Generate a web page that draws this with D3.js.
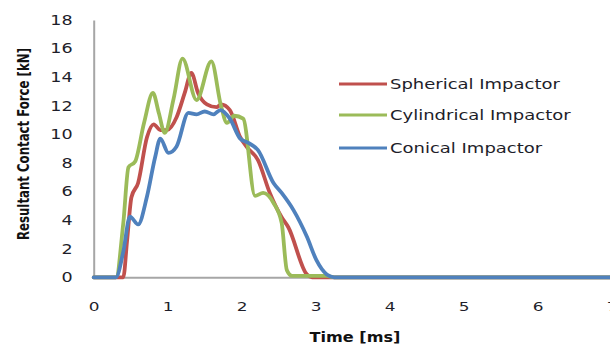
<!DOCTYPE html>
<html>
<head>
<meta charset="utf-8">
<script src="https://cdn.jsdelivr.net/npm/d3@7"></script>
<style>
  html, body { margin: 0; padding: 0; background: #fff; }
  svg { display: block; }
</style>
</head>
<body>
<svg id="chart" width="610" height="345"></svg>
<script>
// Contact force histories for three impactor shapes (time in ms, force in kN)
const sphericalTime  = [0, 0.40, 0.45, 0.51, 0.60, 0.72, 0.81, 0.90, 0.99, 1.12, 1.23, 1.32, 1.41, 1.53, 1.66, 1.72, 1.84, 1.98, 2.07, 2.22, 2.38, 2.54, 2.63, 2.88, 2.95, 7];
const sphericalForce = [0, 0, 2.5, 5.6, 6.6, 9.8, 10.7, 10.3, 10.3, 11.2, 12.9, 14.3, 12.9, 12.1, 11.9, 12.1, 11.7, 9.8, 9.1, 8.2, 5.9, 4.2, 3.5, 0.2, 0, 0];

const cylindricalTime  = [0, 0.30, 0.40, 0.47, 0.56, 0.68, 0.80, 0.88, 0.96, 1.08, 1.20, 1.39, 1.59, 1.72, 1.80, 1.90, 2.02, 2.18, 2.29, 2.43, 2.54, 2.61, 2.68, 3.15, 3.25, 7];
const cylindricalForce = [0, 0, 3.8, 7.7, 8.1, 10.8, 12.9, 11.5, 10.1, 12.5, 15.3, 12.4, 15.1, 12.0, 10.8, 11.3, 11.1, 5.7, 5.9, 5.2, 3.8, 0.5, 0.1, 0.1, 0, 0];

const conicalTime  = [0, 0.30, 0.40, 0.49, 0.60, 0.72, 0.83, 0.90, 1.01, 1.12, 1.28, 1.39, 1.50, 1.62, 1.71, 1.84, 1.98, 2.09, 2.22, 2.43, 2.54, 2.70, 2.88, 3.01, 3.15, 3.25, 7];
const conicalForce = [0, 0, 1.8, 4.25, 3.7, 5.65, 8.4, 9.7, 8.7, 9.15, 11.5, 11.4, 11.6, 11.4, 11.7, 11.1, 9.7, 9.4, 8.9, 6.6, 5.9, 4.7, 2.85, 1.2, 0.2, 0, 0];

const seriesNames  = ["Spherical Impactor", "Cylindrical Impactor", "Conical Impactor"];
const seriesColors = ["#C0504D", "#9BBB59", "#4F81BD"];
const xTicks = [0, 1, 2, 3, 4, 5, 6, 7];
const yTicks = [0, 2, 4, 6, 8, 10, 12, 14, 16, 18];

const series = [
  { name: seriesNames[0], color: seriesColors[0], values: sphericalTime.map((t, i) => [t, sphericalForce[i]]) },
  { name: seriesNames[1], color: seriesColors[1], values: cylindricalTime.map((t, i) => [t, cylindricalForce[i]]) },
  { name: seriesNames[2], color: seriesColors[2], values: conicalTime.map((t, i) => [t, conicalForce[i]]) }
];

const svg = d3.select("#chart");
const x = d3.scaleLinear().domain([0, 7]).range([93.7, 611.7]);
const y = d3.scaleLinear().domain([0, 18]).range([277.3, 20]);

// widen text horizontally by a factor, or to a fixed width
function stretch(sel, k) {
  sel.each(function () {
    const w = this.getComputedTextLength();
    d3.select(this).attr("textLength", w * k).attr("lengthAdjust", "spacingAndGlyphs");
  });
}
function fitWidth(sel, w) {
  sel.attr("textLength", w).attr("lengthAdjust", "spacingAndGlyphs");
}

// Y axis
const yAxis = svg.append("g")
  .attr("transform", `translate(${x(0)},0)`)
  .call(d3.axisLeft(y).tickValues(yTicks).tickSize(0).tickPadding(21).tickFormat(d3.format("d")));
yAxis.select(".domain").attr("stroke", "#a6a6a6").attr("stroke-width", 2);
yAxis.selectAll("text")
  .attr("font-family", "DejaVu Sans, Verdana, sans-serif")
  .attr("font-size", 13.5).attr("fill", "#1e1e2a")
  .call(stretch, 1.3);

// X axis
const xAxis = svg.append("g")
  .attr("transform", `translate(0,${y(0)})`)
  .call(d3.axisBottom(x).tickValues(xTicks).tickSize(0).tickPadding(24).tickFormat(d3.format("d")));
xAxis.select(".domain").attr("stroke", "#a6a6a6").attr("stroke-width", 2);
xAxis.selectAll("text")
  .attr("font-family", "DejaVu Sans, Verdana, sans-serif")
  .attr("font-size", 13).attr("fill", "#1e1e2a")
  .call(stretch, 1.3);

// Axis titles
svg.append("text")
  .attr("transform", "translate(29,144) rotate(-90)")
  .attr("text-anchor", "middle")
  .attr("font-family", "Liberation Sans Narrow, DejaVu Sans Condensed, Arial Narrow, sans-serif")
  .attr("font-weight", "bold").attr("font-size", 15).attr("fill", "#111")
  .text("Resultant Contact Force [kN]")
  .call(fitWidth, 192);

svg.append("text")
  .attr("x", 355).attr("y", 342)
  .attr("text-anchor", "middle")
  .attr("font-family", "DejaVu Sans, Verdana, sans-serif")
  .attr("font-weight", "bold").attr("font-size", 14.5).attr("fill", "#111")
  .text("Time [ms]")
  .call(fitWidth, 91);

// Lines
const line = d3.line()
  .x(d => x(d[0]))
  .y(d => y(d[1]))
  .curve(d3.curveMonotoneX);

svg.append("g").selectAll("path")
  .data(series)
  .join("path")
  .attr("d", d => line(d.values))
  .attr("fill", "none")
  .attr("stroke", d => d.color)
  .attr("stroke-width", 3.8)
  .attr("stroke-linejoin", "round")
  .attr("stroke-linecap", "round");

// Legend
const legendY = [84, 115, 148];
const legend = svg.append("g").selectAll("g")
  .data(series)
  .join("g")
  .attr("transform", (d, i) => `translate(339,${legendY[i]})`);
legend.append("line")
  .attr("x1", 0).attr("x2", 48)
  .attr("stroke", d => d.color).attr("stroke-width", 3);
legend.append("text")
  .attr("x", 51).attr("dy", "0.36em")
  .attr("font-family", "DejaVu Sans, Verdana, sans-serif")
  .attr("font-size", 14.5).attr("fill", "#1e1e2a")
  .text(d => d.name)
  .call(stretch, 1.24);
</script>
</body>
</html>
